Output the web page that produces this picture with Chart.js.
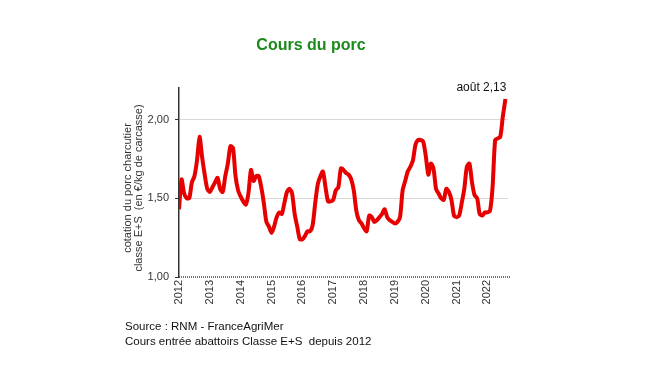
<!DOCTYPE html>
<html>
<head>
<meta charset="utf-8">
<script src="https://cdn.jsdelivr.net/npm/chart.js@4/dist/chart.umd.min.js"></script>
<style>
  html, body { margin: 0; padding: 0; background: #fff; }
  #wrap { width: 650px; height: 366px; position: relative; }
</style>
</head>
<body>
<div id="wrap"><canvas id="chart"></canvas></div>
<script>
// Cotation mensuelle du porc, €/kg carcasse, janvier 2012 -> août 2022
const annees = ['2012', '2013', '2014', '2015', '2016', '2017', '2018', '2019', '2020', '2021', '2022'];
const cours2012 = [1.43, 1.62, 1.53, 1.50, 1.50, 1.60, 1.64, 1.74, 1.89, 1.76, 1.65, 1.56];
const cours2013 = [1.54, 1.57, 1.60, 1.63, 1.56, 1.54, 1.64, 1.72, 1.83, 1.82, 1.64, 1.55];
const cours2014 = [1.51, 1.48, 1.46, 1.53, 1.68, 1.61, 1.64, 1.64, 1.57, 1.47, 1.35, 1.32];
const cours2015 = [1.28, 1.32, 1.38, 1.41, 1.40, 1.47, 1.54, 1.56, 1.53, 1.40, 1.32, 1.24];
const cours2016 = [1.24, 1.26, 1.29, 1.29, 1.33, 1.47, 1.59, 1.64, 1.67, 1.57, 1.48, 1.48];
const cours2017 = [1.49, 1.55, 1.57, 1.69, 1.68, 1.66, 1.65, 1.62, 1.55, 1.42, 1.36, 1.34];
const cours2018 = [1.31, 1.29, 1.39, 1.38, 1.35, 1.36, 1.38, 1.40, 1.43, 1.38, 1.36, 1.35];
const cours2019 = [1.34, 1.35, 1.38, 1.55, 1.61, 1.67, 1.70, 1.74, 1.84, 1.87, 1.87, 1.86];
const cours2020 = [1.77, 1.65, 1.72, 1.69, 1.56, 1.53, 1.50, 1.49, 1.56, 1.54, 1.49, 1.39];
const cours2021 = [1.38, 1.39, 1.47, 1.56, 1.70, 1.72, 1.60, 1.52, 1.50, 1.40, 1.39, 1.41];
const cours2022 = [1.41, 1.42, 1.57, 1.87, 1.88, 1.89, 2.02, 2.13];
const yTicks = [1.0, 1.5, 2.0];

const cours = [].concat(cours2012, cours2013, cours2014, cours2015, cours2016, cours2017,
                        cours2018, cours2019, cours2020, cours2021, cours2022);
const points = cours.map((v, i) => ({ x: i, y: v }));

const FONT = '"Liberation Sans", Arial, sans-serif';

// texts around the plot: title, y title, source, last value
const decor = {
  id: 'decor',
  beforeDraw(chart) {
    const c = chart.ctx;
    c.save();
    c.fillStyle = '#fff';
    c.fillRect(0, 0, chart.width, chart.height);
    c.restore();
  },
  afterDraw(chart) {
    const c = chart.ctx;
    const { x, y } = chart.scales;
    c.save();
    c.fillStyle = '#1b8a1b';
    c.font = 'bold 16px ' + FONT;
    c.textAlign = 'center';
    c.textBaseline = 'middle';
    c.fillText('Cours du porc', 311, 46);

    // y axis title, two lines
    c.fillStyle = '#333';
    c.font = '11px ' + FONT;
    c.translate(133, 188);
    c.rotate(-Math.PI / 2);
    c.fillText('cotation du porc charcutier', 0, -5);
    c.fillText('classe E+S  (en €/kg de carcasse)', 0, 5.5);
    c.restore();

    c.save();
    c.fillStyle = '#111';
    c.font = '11.5px ' + FONT;
    c.textAlign = 'left';
    c.textBaseline = 'middle';
    c.fillText('Source : RNM - FranceAgriMer', 125, 327);
    c.fillText('Cours entrée abattoirs Classe E+S  depuis 2012', 125, 342);

    // label of the last month
    const last = cours.length - 1;
    c.textAlign = 'right';
    c.font = '12px ' + FONT;
    c.fillText('août ' + cours[last].toFixed(2).replace('.', ','),
      x.getPixelForValue(last) + 1, y.getPixelForValue(cours[last]) - 11);

    // dotted base line at 1,00
    const yb = y.getPixelForValue(1.0);
    c.strokeStyle = '#444';
    c.lineWidth = 1.5;
    c.setLineDash([1, 1]);
    c.beginPath();
    c.moveTo(x.left, yb);
    c.lineTo(x.right + 2, yb);
    c.stroke();
    c.restore();
  }
};

new Chart(document.getElementById('chart'), {
  type: 'line',
  data: {
    datasets: [{
      data: points,
      borderColor: '#e60000',
      borderWidth: 4,
      pointRadius: 0,
      tension: 0.25,
      fill: false
    }]
  },
  options: {
    responsive: true,
    maintainAspectRatio: false,
    animation: false,
    layout: { padding: { left: 0, top: 88, right: 142, bottom: 42 } },
    plugins: { legend: { display: false }, tooltip: { enabled: false } },
    scales: {
      x: {
        type: 'linear',
        min: 0,
        max: 128,
        afterBuildTicks(scale) {
          scale.ticks = annees.map((a, i) => ({ value: i * 12 }));
        },
        afterFit(scale) { scale.height = 47; },
        ticks: {
          autoSkip: false,
          minRotation: 90,
          maxRotation: 90,
          padding: 3,
          color: '#333',
          font: { family: FONT, size: 11 },
          callback: (v) => annees[v / 12]
        },
        grid: { display: false, drawTicks: false },
        border: { display: false }
      },
      y: {
        min: 1.0,
        max: 2.2,
        afterBuildTicks(scale) {
          scale.ticks = yTicks.map(v => ({ value: v }));
        },
        afterFit(scale) { scale.width = 179; },
        ticks: {
          padding: 6,
          color: '#333',
          font: { family: FONT, size: 11 },
          callback: (v) => v.toFixed(2).replace('.', ',')
        },
        grid: {
          color: (ctx) => ctx.tick && ctx.tick.value === 1.0 ? 'rgba(0,0,0,0)' : '#d9d9d9',
          tickLength: 4,
          tickColor: '#333',
          drawOnChartArea: true
        },
        border: { display: true, color: '#333', width: 1.5 }
      }
    }
  },
  plugins: [decor]
});
</script>
</body>
</html>
